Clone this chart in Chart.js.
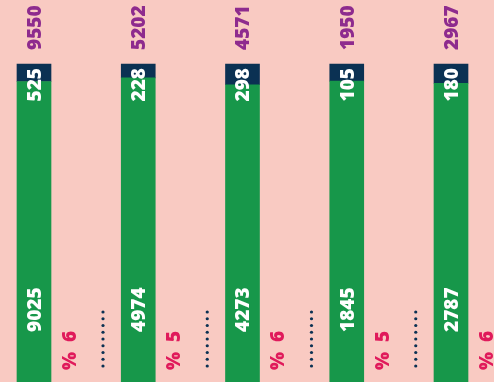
<!DOCTYPE html>
<html>
<head>
<meta charset="utf-8">
<script src="https://cdn.jsdelivr.net/npm/chart.js@4/dist/chart.umd.min.js"></script>
<style>
html, body { margin: 0; padding: 0; background: #f9cac2; }
#wrap { width: 494px; height: 382px; }
</style>
</head>
<body>
<div id="wrap"><canvas id="g_barras" width="494" height="382"></canvas></div>
<script>
// valores de cada columna
var grupos = ['1', '2', '3', '4', '5'];
var valoresBase = [9025, 4974, 4273, 1845, 2787];
var valoresTope = [525, 228, 298, 105, 180];
var totales = [9550, 5202, 4571, 1950, 2967];
var porcentajes = ['6', '5', '6', '5', '6'];

var verde = '#17974a';
var azul = '#0b3153';
var morado = '#8e2b8e';
var rojo = '#e01a5b';

// cada columna se dibuja como 100 %
var partBase = [];
var partTope = [];
for (let i = 0; i < grupos.length; i++) {
    partBase.push(valoresBase[i] / totales[i] * 100);
    partTope.push(valoresTope[i] / totales[i] * 100);
}

function textoVertical(ctx, txt, x, y, alinear, color) {
    ctx.save();
    ctx.translate(x, y);
    ctx.rotate(-Math.PI / 2);
    ctx.textAlign = alinear;
    ctx.fillStyle = color;
    ctx.fillText(txt, 0, 0);
    ctx.restore();
}

function puntos(ctx, x, y1, y2, n) {
    ctx.save();
    ctx.fillStyle = azul;
    var paso = (y2 - y1) / (n - 1);
    for (let k = 0; k < n; k++) {
        ctx.beginPath();
        ctx.arc(x, y1 + k * paso, 1.6, 0, Math.PI * 2);
        ctx.fill();
    }
    ctx.restore();
}

var etiquetas = {
    id: 'etiquetas',
    afterDatasetsDraw: function(chart) {
        var ctx = chart.ctx;
        var ejeY = chart.scales.y;
        var barrasTope = chart.getDatasetMeta(1).data;
        ctx.save();
        ctx.font = '800 19px "Open Sans"';
        ctx.textBaseline = 'middle';
        barrasTope.forEach(function(bar, i) {
            var x = bar.x + 1.5;
            var arriba = bar.y;
            textoVertical(ctx, String(totales[i]), x, arriba - 14, 'left', morado);
            textoVertical(ctx, String(valoresTope[i]), x, arriba + 4, 'right', '#ffffff');
            textoVertical(ctx, String(valoresBase[i]), x, ejeY.bottom - 50, 'left', '#ffffff');
            textoVertical(ctx, '%  ' + porcentajes[i], x + 35, ejeY.bottom - 12, 'left', rojo);
            if (i < barrasTope.length - 1) {
                puntos(ctx, bar.x + 69, ejeY.bottom - 70, ejeY.bottom - 16, 9);
            }
        });
        ctx.restore();
    }
};

var ctx = document.getElementById('g_barras');
var grafico = new Chart(ctx, {
    type: 'bar',
    data: {
        labels: grupos,
        datasets: [{
            data: partBase,
            backgroundColor: verde,
            barThickness: 34,
            clip: false
        }, {
            data: partTope,
            backgroundColor: azul,
            barThickness: 34,
            clip: false
        }]
    },
    options: {
        responsive: false,
        animation: false,
        layout: { padding: { left: 34, right: 43, top: 64, bottom: 0 } },
        plugins: {
            legend: { display: false },
            tooltip: { enabled: false }
        },
        scales: {
            x: { display: false, stacked: true, offset: false },
            y: { display: false, stacked: true, min: 0, max: 100 }
        }
    },
    plugins: [etiquetas]
});
</script>
</body>
</html>
